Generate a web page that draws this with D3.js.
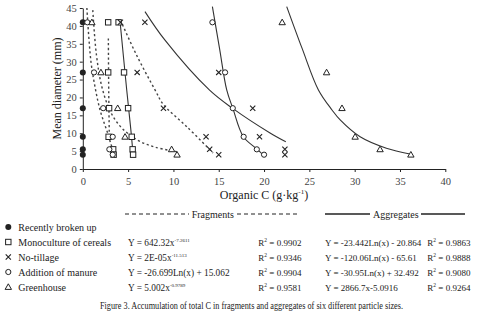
<!DOCTYPE html>
<html>
<head>
<meta charset="utf-8">
<script src="https://cdn.jsdelivr.net/npm/d3@7"></script>
<style>
  body { margin: 0; background: #fff; }
  svg { display: block; font-family: "Liberation Serif", "Times New Roman", serif; }
</style>
</head>
<body>
<script>
// particle sizes (mean diameter, mm) - one row of points per size
var diameters = [41, 27, 17, 9, 5.5, 4];

// organic C (g/kg), same order as diameters
var brokenUp   = [0, 0, 0, 0, 0, 0];
var monoFrag   = [2.8, 2.8, 2.9, 2.85, 3.35, 3.4];
var monoAgg    = [3.95, 4.55, 5.0, 5.4, 5.5, 5.55];
var noTillFrag = [4.15, 6.0, 8.9, 13.6, 14.0, 15.0];
var noTillAgg  = [6.85, 15.0, 18.75, 19.5, 22.3, 22.3];
var manFrag    = [0.5, 1.24, 2.25, 3.3, 2.93, 3.3];
var manAgg     = [14.3, 15.7, 16.55, 17.75, 19.2, 20.0];
var ghFrag     = [1.0, 2.0, 3.85, 4.66, 9.8, 10.4];
var ghAgg      = [22.0, 26.9, 28.6, 30.05, 32.8, 36.2];

// trend lines, [C, diameter] pairs
var monoFragLine   = [[2.82, 36.5], [2.86, 22], [2.92, 10]];
var noTillFragLine = [[4.16, 41.6], [5.9, 32], [7.97, 22.1], [8.9, 18], [11.45, 11.9], [14.37, 4.5]];
var manFragLine    = [[0.45, 45], [0.9, 30], [1.42, 22], [1.9, 16.5], [2.35, 12.9], [2.75, 10], [3.1, 7], [3.4, 5]];
var ghFragLine     = [[1.1, 44.4], [1.5, 32], [2.1, 23], [3.0, 16.3], [4.0, 12.3], [5.0, 9.9], [6.3, 7.7], [8.0, 6.1], [10.4, 4.8]];

var monoAggLine   = [[4.1, 41.5], [4.85, 22], [5.3, 11], [5.5, 5.5]];
var noTillAggLine = [[6.86, 44], [9.07, 36], [13.96, 22.1], [16.5, 17], [20.66, 10.06], [22.4, 7.6]];
var manAggLine    = [[14.3, 45.4], [15.1, 33.5], [15.88, 22.1], [16.55, 17], [17.72, 9], [19.2, 5.6], [19.92, 3.9]];
var ghAggLine     = [[22.5, 45.4], [24.2, 33.7], [26.0, 22.1], [27.5, 16.5], [28.4, 13.7], [30.6, 9.0], [33.5, 5.8], [36.1, 4.2]];

// legend table
var treatments = ["Recently broken up", "Monoculture of cereals", "No-tillage", "Addition of manure", "Greenhouse"];
var symbols    = ["dot", "square", "cross", "circle", "triangle"];
var fragEq     = [null, ["Y = 642.32x", "-7.2611"], ["Y = 2E-05x", "-11.513"], ["Y = -26.699Ln(x) + 15.062", ""], ["Y = 5.002x", "-0.9789"]];
var fragR2     = [null, "0.9902", "0.9346", "0.9904", "0.9581"];
var aggEq      = [null, "Y = -23.442Ln(x) - 20.864", "Y = -120.06Ln(x) - 65.61", "Y = -30.95Ln(x) + 32.492", "Y = 2866.7x-5.0916"];
var aggR2      = [null, "0.9863", "0.9888", "0.9080", "0.9264"];

var W = 502, H = 315;
var ink = "#222";

var svg = d3.select("body").append("svg")
    .attr("width", W)
    .attr("height", H);

var x = d3.scaleLinear().domain([0, 40]).range([82.8, 445.3]);
var y = d3.scaleLinear().domain([0, 45]).range([169, 8]);

//axes
var gx = svg.append("g")
    .attr("transform", "translate(0," + y(0) + ")")
    .call(d3.axisBottom(x).tickValues(d3.range(0, 41, 5)).tickSize(3).tickPadding(6).tickSizeOuter(0));
var gy = svg.append("g")
    .attr("transform", "translate(" + x(0) + ",0)")
    .call(d3.axisLeft(y).tickValues(d3.range(0, 46, 5)).tickSize(3).tickPadding(3).tickSizeOuter(0));

[gx, gy].forEach(function(g) {
  g.selectAll("path, line").attr("stroke", ink);
  g.selectAll("text").attr("font-family", "Liberation Serif").attr("font-size", "10.5px").attr("fill", "#444");
});

svg.append("text")
    .attr("transform", "translate(57," + ((y(0) + y(45)) / 2) + ") rotate(-90)")
    .attr("text-anchor", "middle")
    .attr("dy", "0.35em")
    .attr("font-size", "12px")
    .attr("fill", ink)
    .text("Mean diameter (mm)");

var xt = svg.append("text")
    .attr("x", 264).attr("y", 199)
    .attr("text-anchor", "middle")
    .attr("font-size", "12px")
    .attr("fill", ink);
xt.append("tspan").text("Organic C (g·kg");
xt.append("tspan").attr("font-size", "7px").attr("dy", -5).text("-1");
xt.append("tspan").attr("dy", 5).text(")");

//trend lines
var line = d3.line()
    .x(function(d) { return x(d[0]); })
    .y(function(d) { return y(d[1]); })
    .curve(d3.curveCatmullRom.alpha(0.5));

[monoFragLine, noTillFragLine, manFragLine, ghFragLine].forEach(function(l) {
  svg.append("path").attr("d", line(l))
      .attr("fill", "none").attr("stroke", "#444")
      .attr("stroke-width", 1.4).attr("stroke-dasharray", "2.2,2.6");
});
[monoAggLine, noTillAggLine, manAggLine, ghAggLine].forEach(function(l) {
  svg.append("path").attr("d", line(l))
      .attr("fill", "none").attr("stroke", "#333")
      .attr("stroke-width", 1.1);
});

// marker drawing
function marker(g, type, cx, cy) {
  if (type == "dot") {
    g.append("circle").attr("cx", cx).attr("cy", cy).attr("r", 3).attr("fill", ink);
  } else if (type == "square") {
    g.append("rect").attr("x", cx - 2.7).attr("y", cy - 2.7).attr("width", 5.4).attr("height", 5.4)
        .attr("fill", "#fff").attr("stroke", ink).attr("stroke-width", 1);
  } else if (type == "circle") {
    g.append("circle").attr("cx", cx).attr("cy", cy).attr("r", 2.6)
        .attr("fill", "#fff").attr("stroke", ink).attr("stroke-width", 1);
  } else if (type == "triangle") {
    g.append("path").attr("d", "M" + cx + "," + (cy - 3.2) + "L" + (cx + 3.2) + "," + (cy + 2.4) + "L" + (cx - 3.2) + "," + (cy + 2.4) + "Z")
        .attr("fill", "#fff").attr("stroke", ink).attr("stroke-width", 1);
  } else if (type == "cross") {
    g.append("path").attr("d", "M" + (cx - 2.6) + "," + (cy - 2.6) + "L" + (cx + 2.6) + "," + (cy + 2.6) +
        "M" + (cx + 2.6) + "," + (cy - 2.6) + "L" + (cx - 2.6) + "," + (cy + 2.6))
        .attr("fill", "none").attr("stroke", ink).attr("stroke-width", 1.1);
  }
}

var series = [
  ["dot", brokenUp], ["square", monoFrag], ["square", monoAgg],
  ["cross", noTillFrag], ["cross", noTillAgg],
  ["circle", manFrag], ["circle", manAgg],
  ["triangle", ghFrag], ["triangle", ghAgg]
];
var gp = svg.append("g");
series.forEach(function(s) {
  s[1].forEach(function(v, i) {
    marker(gp, s[0], x(v), y(diameters[i]));
  });
});

// legend
var lg = svg.append("g").attr("font-size", "10px").attr("fill", ink);

lg.append("line").attr("x1", 125).attr("x2", 189).attr("y1", 214).attr("y2", 214)
    .attr("stroke", ink).attr("stroke-dasharray", "4,3");
lg.append("text").attr("x", 191.7).attr("y", 217.5).text("Fragments");
lg.append("line").attr("x1", 237).attr("x2", 300).attr("y1", 214).attr("y2", 214)
    .attr("stroke", ink).attr("stroke-dasharray", "4,3");

lg.append("line").attr("x1", 325).attr("x2", 370).attr("y1", 214).attr("y2", 214)
    .attr("stroke", ink).attr("stroke-width", 1.5);
lg.append("text").attr("x", 373).attr("y", 217.5).text("Aggregates");
lg.append("line").attr("x1", 421).attr("x2", 465).attr("y1", 214).attr("y2", 214)
    .attr("stroke", ink).attr("stroke-width", 1.5);

var rowY = [227, 242, 257, 272, 287];

function r2text(px, py, val) {
  var r = lg.append("text").attr("x", px).attr("y", py).attr("font-size", "9px");
  r.append("tspan").text("R");
  r.append("tspan").attr("font-size", "5.5px").attr("dy", -3.5).text("2");
  r.append("tspan").attr("dy", 3.5).text(" = " + val);
}

treatments.forEach(function(t, i) {
  var ry = rowY[i];
  marker(lg, symbols[i], 8.3, ry);
  lg.append("text").attr("x", 18.3).attr("y", ry + 3.5).text(t);
  if (fragEq[i]) {
    var te = lg.append("text").attr("x", 128).attr("y", ry + 3.5).attr("font-size", "9.3px");
    te.append("tspan").text(fragEq[i][0]);
    if (fragEq[i][1]) te.append("tspan").attr("font-size", "5px").attr("dy", -4).text(fragEq[i][1]);
    r2text(258.3, ry + 3.5, fragR2[i]);
    lg.append("text").attr("x", 325).attr("y", ry + 3.5).attr("font-size", "9px").text(aggEq[i]);
    r2text(427.3, ry + 3.5, aggR2[i]);
  }
});

svg.append("text")
    .attr("x", 100).attr("y", 308.5)
    .attr("font-size", "10px")
    .attr("fill", ink)
    .attr("textLength", 303)
    .attr("lengthAdjust", "spacingAndGlyphs")
    .text("Figure 3. Accumulation of total C in fragments and aggregates of six different particle sizes.");
</script>
</body>
</html>
